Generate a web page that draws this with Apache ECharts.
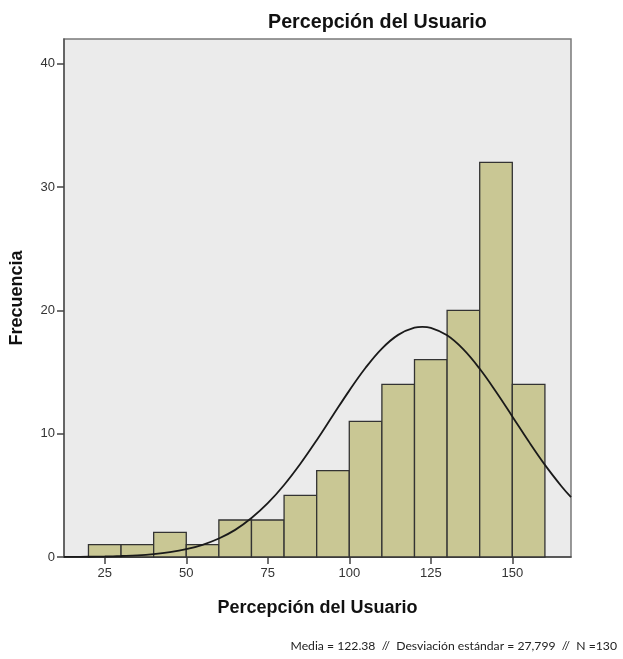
<!DOCTYPE html>
<html>
<head>
<meta charset="utf-8">
<script src="https://cdn.jsdelivr.net/npm/echarts@6/dist/echarts.min.js"></script>
<style>html,body{margin:0;padding:0;background:#fff}#c{width:623px;height:659px}</style>
</head>
<body>
<div id="c"></div>
<script>
// Histogram bins (lower edge, upper edge) and frequencies
const binStarts = [20, 30, 40, 50, 60, 70, 80, 90, 100, 110, 120, 130, 140, 150];
const binWidth = 10;
const frequencies = [1, 1, 2, 1, 3, 3, 5, 7, 11, 14, 16, 20, 32, 14];
// Normal curve
const curveX = [12.5, 15, 20, 25, 30, 35, 40, 45, 50, 55, 60, 65, 70, 75, 80, 85, 90, 95, 100, 105, 110, 115, 120, 122.4, 125, 130, 135, 140, 145, 150, 155, 160, 165, 168];
const curveY = [0.01, 0.01, 0.02, 0.04, 0.08, 0.13, 0.23, 0.39, 0.63, 0.99, 1.5, 2.2, 3.16, 4.36, 5.84, 7.56, 9.47, 11.49, 13.49, 15.34, 16.9, 18.01, 18.59, 18.66, 18.58, 17.97, 16.83, 15.26, 13.4, 11.4, 9.38, 7.47, 5.76, 4.85];
const xTicks = [25, 50, 75, 100, 125, 150];
const yTicks = [0, 10, 20, 30, 40];
const titleText = 'Percepción del Usuario';
const xName = 'Percepción del Usuario';
const yName = 'Frecuencia';
const statsText = 'Media = 122.38  //  Desviación estándar = 27,799  //  N =130';

const chart = echarts.init(document.getElementById('c'), null, {renderer: 'canvas'});
const barData = binStarts.map((s, i) => [s, s + binWidth, frequencies[i]]);
const curveData = curveX.map((x, i) => [x, curveY[i]]);

chart.setOption({
  animation: false,
  backgroundColor: '#ffffff',
  grid: {
    left: 64, right: 52, top: 39, bottom: 102,
    show: true, backgroundColor: '#ebebeb', borderColor: '#7a7a7a', borderWidth: 1.5
  },
  xAxis: {
    type: 'value', min: 12.5, max: 168,
    name: xName, nameLocation: 'middle', nameGap: 42,
    nameTextStyle: {fontFamily: 'Liberation Sans', fontWeight: 'bold', fontSize: 18, color: '#111'},
    axisLine: {show: true, onZero: false, lineStyle: {color: '#444', width: 1.5}},
    axisTick: {show: true, length: 7, customValues: xTicks, lineStyle: {color: '#444', width: 1.5}},
    axisLabel: {customValues: xTicks, fontFamily: 'Liberation Sans', fontSize: 13, color: '#333', margin: 10},
    splitLine: {show: false}
  },
  yAxis: {
    type: 'value', min: 0, max: 42,
    name: yName, nameLocation: 'middle', nameGap: 38, nameRotate: 90,
    nameTextStyle: {fontFamily: 'Liberation Sans', fontWeight: 'bold', fontSize: 18, color: '#111'},
    axisLine: {show: true, onZero: false, lineStyle: {color: '#555', width: 1.5}},
    axisTick: {show: true, length: 7, customValues: yTicks, lineStyle: {color: '#444', width: 1.5}},
    axisLabel: {customValues: yTicks, fontFamily: 'Liberation Sans', fontSize: 13, color: '#333', margin: 9},
    splitLine: {show: false}
  },
  graphic: [
    {type: 'text', left: 268, top: 13, style: {text: titleText, font: 'bold 19.7px "Liberation Sans"', fill: '#111'}},
    {type: 'text', right: 6, top: 640, style: {text: statsText, font: '12.2px Lato', fill: '#222'}}
  ],
  series: [
    {
      type: 'custom',
      data: barData,
      encode: {x: [0, 1], y: 2},
      renderItem: function (params, api) {
        const p0 = api.coord([api.value(0), api.value(2)]);
        const p1 = api.coord([api.value(1), 0]);
        return {
          type: 'rect',
          shape: {x: p0[0], y: p0[1], width: p1[0] - p0[0], height: p1[1] - p0[1]},
          style: {fill: '#c9c794', stroke: '#333333', lineWidth: 1.3}
        };
      },
      z: 2
    },
    {
      type: 'line',
      data: curveData,
      smooth: 0.4,
      showSymbol: false,
      lineStyle: {color: '#1a1a1a', width: 1.8},
      z: 3
    }
  ]
});
</script>
</body>
</html>
